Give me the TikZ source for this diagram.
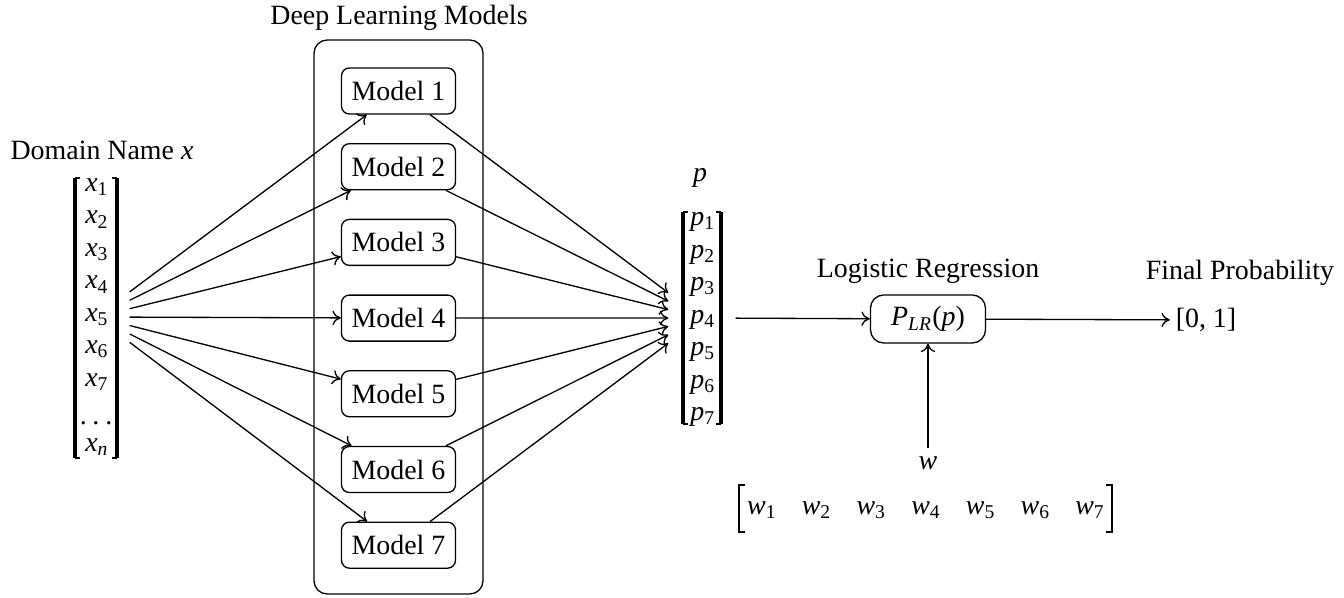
\documentclass[tikz,border=0pt]{standalone}
\usepackage{fontspec}
\setmainfont{Liberation Serif}
\usetikzlibrary{fit,arrows.meta}
\newcommand{\iv}[2]{\textit{#1}\textsubscript{#2}}
\begin{document}
\begin{tikzpicture}[x=0.38pt,y=-0.38pt, font=\fontsize{10.6}{13}\selectfont, line width=0.5pt,
  model/.style={draw, rounded corners=3pt, minimum width=114*0.38pt, minimum height=46*0.38pt, inner sep=0pt},
  lab/.style={inner sep=0pt},
  vec/.style={minimum width=66*0.38pt, inner sep=0pt},
  arr/.style={-{To[length=3.2pt,width=5.5pt]}},
  bar/.style={line width=1.2pt},
  tick/.style={line width=0.5pt}]
\useasboundingbox (0,0) rectangle (1344,598);

% Deep learning models
\node[lab] (dltitle) at (399,18) {Deep Learning Models};
\node[draw, rounded corners=5pt, fit={(314,40) (483,594)}, inner sep=0pt] (dl) {};
\foreach \i in {1,...,7}
  \node[model] (m\i) at (398.5,{91+75.7*(\i-1)}) {Model \i};

% x vector
\node[lab] (xlab) at (102,150) {Domain Name \textit{x}};
\node[vec, minimum height=280*0.38pt] (xv) at (96,317) {};
\draw[bar] (75,178) -- (75,458);
\draw[bar] (117,178) -- (117,458);
\draw[tick] (75,178) -- (80,178) (75,458) -- (80,458);
\draw[tick] (117,178) -- (112,178) (117,458) -- (112,458);
\foreach \i in {1,...,7}
  \node[lab] (x\i) at (97,{187+32.5*(\i-1)}) {\iv{x}{\i}};
\node[lab] (xdots) at (96,423) {.\hspace{2.2pt}.\hspace{2.2pt}.};
\node[lab] (xn) at (97,447) {\iv{x}{\textit{n}}};

% p vector
\node[lab] (plab) at (700,178) {\textit{p}};
\node[vec, minimum height=212*0.38pt] (pv) at (702,318) {};
\draw[bar] (683,212) -- (683,424);
\draw[bar] (721,212) -- (721,424);
\draw[tick] (683,212) -- (688,212) (683,424) -- (688,424);
\draw[tick] (721,212) -- (716,212) (721,424) -- (716,424);
\foreach \i in {1,...,7}
  \node[lab] (p\i) at (703,{222+32.5*(\i-1)}) {\iv{p}{\i}};

% connectors
\foreach \i in {1,...,7} {
  \draw[arr] (xv) -- (m\i);
  \draw[arr] (m\i) -- (pv);
}

% logistic regression
\node[lab] (lrlab) at (928,271) {Logistic Regression};
\node[draw, rounded corners=5pt, minimum width=115*0.38pt, minimum height=48*0.38pt, inner sep=0pt] (lr) at (928,319)
  {\textit{P}\textsubscript{\textit{LR}}(\textit{p})};
\draw[arr] (pv) -- (lr);
\node[inner sep=2pt] (out) at (1206,320) {[0, 1]};
\draw[arr] (lr) -- (out);
\node[lab] (fp) at (1240,273) {Final Probability};

% w
\node[inner sep=3pt] (wlab) at (928,463) {\textit{w}};
\draw[arr] (wlab) -- (lr);
\foreach \i in {1,...,7}
  \node[lab] (w\i) at ({762+54.7*(\i-1)},510) {\iv{w}{\i}};
\draw[line width=0.6pt] (745,485) -- (739,485) -- (739,532) -- (745,532);
\draw[line width=0.6pt] (1106,485) -- (1112,485) -- (1112,532) -- (1106,532);
\end{tikzpicture}
\end{document}
